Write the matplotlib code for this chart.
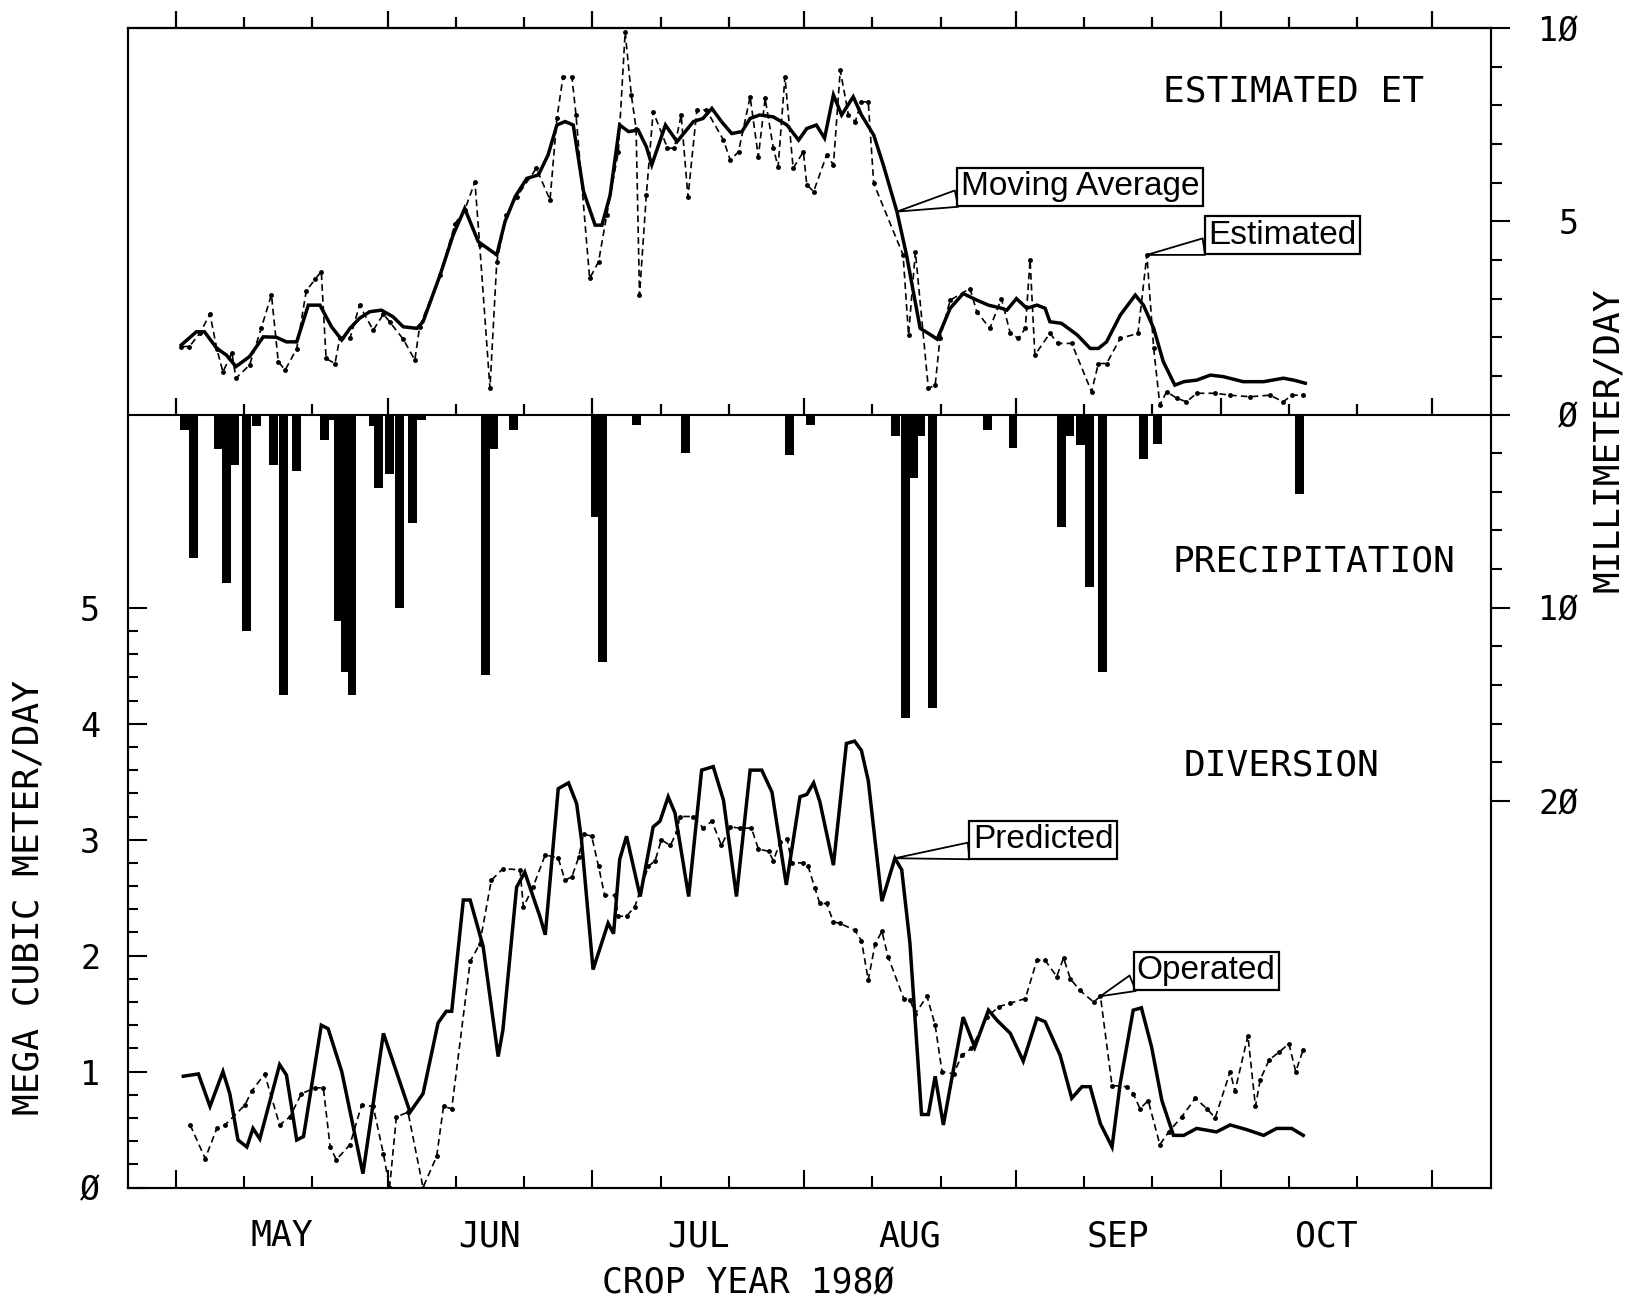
import matplotlib.pyplot as plt
from matplotlib.ticker import FixedLocator, NullFormatter

plt.rcParams['font.family'] = ['DejaVu Sans Mono', 'DejaVu Sans']

# all x values are days counted from May 1, 1980

# estimated ET, moving average (mm/day)
ma_day = [0.8, 3.0, 4.2, 6.0, 7.4, 8.8, 10.8, 12.8, 14.7, 16.2, 17.7, 19.4, 21.1, 22.8, 24.3,
          25.5, 26.9, 28.4, 30.1, 31.8, 33.3, 35.3, 36.2, 38.7, 40.6, 42.3, 44.3, 47.0, 48.2,
          49.7, 51.4, 53.1, 54.5, 55.8, 57.0, 58.2, 59.7, 61.4, 62.4, 63.6, 65.0, 66.3, 67.7,
          68.9, 69.7, 71.7, 73.4, 75.8, 77.2, 78.5, 79.9, 81.4, 82.9, 84.1, 85.5, 87.5, 89.5,
          91.2, 92.4, 93.8, 95.0, 96.3, 97.5, 99.2, 100.4, 102.2, 103.6, 105.6, 107.0, 109.0,
          110.2, 111.5, 113.4, 115.3, 117.3, 119.0, 120.9, 121.7, 123.1, 124.6, 126.1, 127.3,
          128.0, 129.7, 132.0, 133.9, 135.1, 136.3, 138.3, 140.5, 141.7, 143.2, 144.6, 146.3,
          147.6, 149.5, 151.5, 153.4, 156.3, 159.3, 162.2, 163.7, 165.4]
ma_et = [1.80, 2.14, 2.14, 1.71, 1.54, 1.24, 1.50, 2.01, 2.00, 1.88, 1.88, 2.83, 2.83, 2.27, 1.93,
         2.23, 2.49, 2.66, 2.70, 2.53, 2.27, 2.23, 2.40, 3.61, 4.64, 5.33, 4.47, 4.13, 4.99,
         5.64, 6.11, 6.20, 6.71, 7.49, 7.58, 7.49, 5.77, 4.90, 4.90, 5.68, 7.49, 7.32, 7.36,
         6.93, 6.46, 7.49, 7.06, 7.58, 7.66, 7.92, 7.58, 7.27, 7.32, 7.66, 7.75, 7.70, 7.49,
         7.10, 7.40, 7.49, 7.15, 8.27, 7.75, 8.22, 7.75, 7.23, 6.46, 5.25, 4.13, 2.23,
         2.10, 1.95, 2.75, 3.13, 2.96, 2.83, 2.75, 2.70, 3.00, 2.75, 2.83, 2.75,
         2.40, 2.36, 2.06, 1.71, 1.71, 1.88, 2.57, 3.09, 2.83, 2.23, 1.37, 0.76,
         0.85, 0.89, 1.02, 0.98, 0.85, 0.85, 0.94, 0.89, 0.81]

# estimated ET, daily (mm/day)
est_day = [0.8, 2.0, 3.5, 5.0, 6.0, 6.9, 8.2, 8.8, 10.8, 12.5, 14.0, 15.0, 16.0, 17.7, 19.1,
           20.4, 21.3, 22.0, 23.3, 24.0, 25.5, 26.9, 28.9, 30.4, 31.3, 33.3, 35.0, 35.7, 38.7,
           40.9, 42.3, 43.8, 44.5, 46.0, 47.0, 48.4, 49.9, 52.8, 54.8, 55.8, 56.7, 58.0, 58.6,
           60.6, 61.9, 63.1, 64.8, 65.8, 66.7, 67.4, 67.9, 68.9, 69.9, 72.0, 73.0, 74.0, 75.0,
           76.3, 77.7, 80.2, 81.2, 82.4, 84.1, 85.3, 86.3, 87.5, 88.2, 89.2, 90.4, 91.9, 92.4,
           93.4, 95.3, 96.3, 97.3, 98.5, 99.5, 100.4, 101.4, 102.2, 106.5, 107.3, 108.3, 110.2,
           111.2, 111.9, 113.4, 116.3, 117.3, 119.2, 120.9, 122.2, 123.4, 124.4, 125.1, 125.8,
           128.0, 129.2, 131.2, 134.1, 135.1, 136.3, 138.3, 140.9, 142.2, 143.2, 144.1, 145.1,
           146.6, 148.0, 149.5, 152.2, 154.4, 157.3, 160.2, 162.2, 163.4, 165.1]
est_et = [1.76, 1.76, 2.10, 2.60, 1.70, 1.10, 1.60, 0.94, 1.28, 2.23, 3.10, 1.37, 1.15, 1.70, 3.20,
          3.50, 3.70, 1.45, 1.32, 1.97, 1.97, 2.83, 2.18, 2.60, 2.40, 1.95, 1.41, 2.27, 3.61,
          4.94, 5.29, 6.02, 4.38, 0.68, 3.95, 5.16, 5.63, 6.37, 5.55, 7.66, 8.74, 8.74, 7.75,
          3.52, 3.95, 5.16, 6.80, 9.90, 8.27, 7.40, 3.09, 5.68, 7.84, 6.89, 6.89, 7.75, 5.63,
          7.88, 7.88, 7.10, 6.58, 6.80, 8.22, 6.67, 8.18, 6.89, 6.41, 8.74, 6.37, 6.80, 5.94,
          5.77, 6.71, 6.46, 8.91, 7.75, 7.58, 8.09, 8.09, 5.98, 4.13, 2.06, 4.21, 0.68,
          0.76, 1.97, 2.96, 3.26, 2.66, 2.23, 3.00, 2.10, 1.97, 2.23, 4.00, 1.54,
          2.10, 1.84, 1.84, 0.59, 1.32, 1.32, 1.97, 2.10, 4.13, 1.71, 0.25, 0.59,
          0.42, 0.33, 0.55, 0.55, 0.50, 0.46, 0.50, 0.33, 0.50, 0.50]

# precipitation (mm/day)
rain_day = [1.3, 2.6, 6.2, 7.4, 8.6, 10.4, 11.8, 14.3, 15.8, 17.7, 21.8, 23.0, 23.8, 24.8, 25.8,
            28.9, 29.7, 31.3, 32.8, 34.6, 36.0, 45.3, 46.5, 49.5, 61.5, 62.5, 67.5, 74.6, 89.9,
            92.9, 105.4, 106.8, 108.0, 109.0, 110.8, 118.8, 122.6, 129.7, 130.9, 132.5, 133.8,
            135.7, 141.7, 143.8, 164.6]
rain_mm = [0.8, 7.4, 1.8, 8.7, 2.6, 11.2, 0.6, 2.6, 14.5, 2.9, 1.3, 0.3, 10.7, 13.3, 14.5,
           0.6, 3.8, 3.1, 10.0, 5.6, 0.3, 13.5, 1.8, 0.8, 5.3, 12.8, 0.55, 2.0, 2.1,
           0.55, 1.1, 15.7, 3.3, 1.1, 15.2, 0.8, 1.75, 5.8, 1.1, 1.6, 8.9,
           13.3, 2.3, 1.5, 4.1]

# diversion, predicted (10^6 m3/day)
pred_day = [1.1, 3.3, 5.0, 6.9, 7.9, 9.1, 10.4, 11.3, 12.3, 15.2, 16.2, 17.7, 18.7, 21.3, 22.3,
            24.3, 27.4, 30.4, 34.3, 36.2, 38.4, 39.6, 40.4, 42.1, 43.1, 45.0, 47.2, 47.9, 49.9,
            51.1, 53.3, 54.1, 56.0, 57.5, 58.7, 59.4, 61.1, 63.3, 64.1, 65.0, 66.0, 68.0, 69.9,
            70.9, 72.1, 73.1, 75.1, 77.0, 78.7, 80.2, 82.1, 84.1, 85.8, 87.3, 89.4, 91.4, 92.4,
            93.4, 94.3, 96.3, 98.2, 99.4, 100.4, 101.4, 103.4, 105.3, 106.3, 107.5, 109.2, 110.2,
            111.2, 112.4, 113.6, 115.3, 117.0, 119.0, 120.3, 122.2, 124.1, 126.1, 127.3, 129.5,
            131.2, 132.7, 133.9, 135.4, 137.1, 138.3, 140.2, 141.4, 142.9, 144.4, 146.1, 147.6,
            149.5, 152.4, 154.4, 156.8, 159.3, 161.2, 163.4, 165.1]
pred_q = [0.96, 0.98, 0.70, 1.00, 0.81, 0.41, 0.35, 0.51, 0.42, 1.06, 0.97, 0.41, 0.44, 1.40, 1.37,
          1.00, 0.12, 1.33, 0.65, 0.81, 1.42, 1.52, 1.52, 2.48, 2.48, 2.08, 1.13, 1.36, 2.59,
          2.72, 2.34, 2.18, 3.44, 3.49, 3.31, 3.00, 1.88, 2.28, 2.19, 2.83, 3.03, 2.51, 3.11,
          3.16, 3.37, 3.23, 2.51, 3.60, 3.63, 3.34, 2.51, 3.60, 3.60, 3.41, 2.61, 3.37, 3.39,
          3.49, 3.33, 2.78, 3.83, 3.85, 3.77, 3.51, 2.47, 2.84, 2.74, 2.11, 0.63, 0.63,
          0.96, 0.54, 0.93, 1.47, 1.21, 1.53, 1.44, 1.33, 1.09, 1.46, 1.43, 1.14,
          0.77, 0.87, 0.87, 0.55, 0.35, 0.90, 1.53, 1.55, 1.21, 0.75, 0.45, 0.45,
          0.51, 0.48, 0.54, 0.50, 0.45, 0.51, 0.51, 0.45]

# diversion, operated (10^6 m3/day)
oper_day = [2.1, 4.3, 6.0, 7.2, 10.1, 11.1, 13.0, 15.2, 16.7, 18.4, 20.4, 21.6, 22.6, 23.5, 25.5,
            27.2, 28.9, 30.4, 31.3, 32.3, 34.0, 36.2, 38.2, 39.2, 40.4, 43.1, 44.5, 46.2, 47.9,
            50.4, 50.9, 52.3, 54.1, 56.0, 57.0, 58.0, 59.0, 59.7, 60.9, 61.9, 62.8, 64.3, 64.8,
            66.0, 67.2, 69.2, 70.2, 71.1, 72.4, 73.4, 73.8, 75.8, 77.2, 78.5, 79.9, 81.2, 82.6,
            84.3, 85.3, 86.8, 87.5, 88.5, 89.5, 90.2, 91.9, 92.6, 93.6, 94.3, 95.3, 96.3, 97.2,
            99.4, 100.4, 101.4, 102.4, 103.4, 104.3, 106.6, 107.5, 108.3, 110.0, 111.2, 112.2,
            113.9, 115.1, 116.5, 118.8, 120.5, 122.2, 124.4, 126.1, 127.3, 129.0, 130.0, 131.0,
            132.4, 134.4, 135.4, 137.1, 139.3, 140.2, 141.2, 142.4, 144.1, 145.4, 147.3, 149.3,
            151.0, 152.2, 154.4, 155.1, 157.0, 158.1, 158.8, 160.1, 161.6, 163.0, 164.0, 165.1]
oper_q = [0.54, 0.25, 0.51, 0.54, 0.71, 0.83, 0.98, 0.54, 0.61, 0.81, 0.86, 0.86, 0.35, 0.24, 0.37,
          0.71, 0.70, 0.29, 0.00, 0.61, 0.65, 0.00, 0.27, 0.70, 0.68, 1.95, 2.10, 2.65, 2.75,
          2.74, 2.42, 2.59, 2.87, 2.84, 2.65, 2.68, 2.85, 3.05, 3.03, 2.77, 2.52, 2.52, 2.34,
          2.34, 2.42, 2.77, 2.82, 3.00, 2.95, 3.07, 3.20, 3.20, 3.10, 3.16, 2.95, 3.11, 3.10,
          3.10, 2.92, 2.90, 2.82, 2.98, 3.01, 2.80, 2.80, 2.77, 2.58, 2.45, 2.45, 2.29, 2.28,
          2.22, 2.13, 1.79, 2.10, 2.21, 1.99, 1.63, 1.62, 1.50, 1.65, 1.40, 1.00,
          0.98, 1.14, 1.20, 1.47, 1.56, 1.59, 1.63, 1.96, 1.96, 1.82, 1.98, 1.80,
          1.70, 1.60, 1.65, 0.88, 0.87, 0.81, 0.68, 0.75, 0.37, 0.48, 0.61, 0.77,
          0.68, 0.60, 1.00, 0.83, 1.31, 0.70, 0.93, 1.10, 1.17, 1.24, 1.00, 1.19]

month_start = [0, 31, 61, 92, 123, 153, 184]
ten_days = [10, 20, 41, 51, 71, 81, 102, 112, 133, 143, 163, 173]
month_names = ['MAY', 'JUN', 'JUL', 'AUG', 'SEP', 'OCT']

fig = plt.figure(figsize=(16.29, 13.03), dpi=100)
pos = [0.0786, 0.0886, 0.8367, 0.8899]
ax = fig.add_axes(pos)
ax2 = ax.twinx()

ax.set_xlim(-7.0, 192.6)
ax.set_ylim(0, 10)
ax2.set_ylim(-20, 10)   # mm/day; precipitation drawn downward at half scale

solid = dict(color='black', lw=2.5, solid_joinstyle='miter')
dashdot = dict(color='black', lw=1.2, ls=(0, (4, 2.5)), marker='.', ms=5)

ax2.bar(rain_day, [-p / 2 for p in rain_mm], width=1.3, color='black', linewidth=0)
ax2.plot(ma_day, ma_et, **solid)
ax2.plot(est_day, est_et, **dashdot)
ax.plot(pred_day, pred_q, **solid)
ax.plot(oper_day, oper_q, **dashdot)

# x ticks: month starts (long) and every ten days (short)
ax.xaxis.set_major_locator(FixedLocator(month_start))
ax.xaxis.set_minor_locator(FixedLocator(ten_days))
ax.xaxis.set_major_formatter(NullFormatter())
ax.tick_params(axis='x', which='both', direction='in', top=False, width=1.5)
ax.tick_params(axis='x', which='major', length=13)
ax.tick_params(axis='x', which='minor', length=8.5)

# top edge and ET zero line carry upward tick marks
for loc in ['top', 2 / 3]:
    sec = ax.secondary_xaxis(loc)
    sec.xaxis.set_major_locator(FixedLocator(month_start))
    sec.xaxis.set_minor_locator(FixedLocator(ten_days))
    sec.xaxis.set_major_formatter(NullFormatter())
    sec.tick_params(axis='x', which='major', length=12, width=1.6, color='black',
                    direction='out')
    sec.tick_params(axis='x', which='minor', length=8, width=1.6, color='black',
                    direction='out')
    for s in sec.spines.values():
        s.set_linewidth(1.5)

# left axis
ax.yaxis.set_major_locator(FixedLocator([0, 1, 2, 3, 4, 5]))
ax.yaxis.set_minor_locator(FixedLocator([i * 0.2 for i in range(26)]))
ax.set_yticklabels(['Ø', '1', '2', '3', '4', '5'])
ax.tick_params(axis='y', which='both', direction='in', right=False, width=1.5,
               labelsize=24, pad=20)
ax.tick_params(axis='y', which='major', length=14)
ax.tick_params(axis='y', which='minor', length=7)

# right axis
ax2.yaxis.set_major_locator(FixedLocator([-10, -5, 0, 5, 10]))
ax2.yaxis.set_minor_locator(FixedLocator(list(range(-10, 11))))
ax2.set_yticklabels(['2Ø', '1Ø', 'Ø', '5', '1Ø'])
ax2.tick_params(axis='y', which='both', direction='out', width=1.5, labelsize=24, pad=49)
ax2.tick_params(axis='y', which='major', length=14)
ax2.tick_params(axis='y', which='minor', length=8)
for lab in ax2.get_yticklabels():
    lab.set_horizontalalignment('right')

for a in (ax, ax2):
    for s in a.spines.values():
        s.set_linewidth(1.5)

# month names and axis titles
for i, name in enumerate(month_names):
    ax.text((month_start[i] + month_start[i + 1]) / 2, -0.042, name, fontsize=25,
            ha='center', va='center', transform=ax.get_xaxis_transform())
ax.text(83.8, -0.082, 'CROP YEAR 198Ø', fontsize=25, ha='center', va='center',
        transform=ax.get_xaxis_transform())
ax.text(-0.073, 2.5, 'MEGA CUBIC METER/DAY', fontsize=26, rotation=90, ha='center',
        va='center', transform=ax.get_yaxis_transform())
ax.text(1.086, 0.645, 'MILLIMETER/DAY', fontsize=26, rotation=90, ha='center',
        va='center', transform=ax.transAxes)

ax2.text(163.7, 8.37, 'ESTIMATED ET', fontsize=26, ha='center', va='center')
ax2.text(166.6, -3.79, 'PRECIPITATION', fontsize=26, ha='center', va='center')
ax.text(161.9, 3.64, 'DIVERSION', fontsize=26, ha='center', va='center')

# callout labels
def callout(a, label, xy, xytext):
    a.annotate(label, xy=xy, xytext=xytext, fontsize=24, family='Liberation Sans',
               ha='center', va='center', zorder=5,
               bbox=dict(boxstyle='square,pad=0.1', fc='white', ec='black', lw=1.6),
               arrowprops=dict(arrowstyle='wedge,tail_width=0.5', fc='white',
                               ec='black', lw=1.3, relpos=(0, 0.15),
                               shrinkA=0, shrinkB=0))

callout(ax2, 'Moving Average', (105.6, 5.25), (132.4, 5.89))
callout(ax2, 'Estimated', (142.2, 4.13), (162.0, 4.64))
callout(ax, 'Predicted', (105.3, 2.84), (127.0, 3.0))
callout(ax, 'Operated', (135.4, 1.65), (150.9, 1.87))

fig.savefig('out.png', dpi=100)
